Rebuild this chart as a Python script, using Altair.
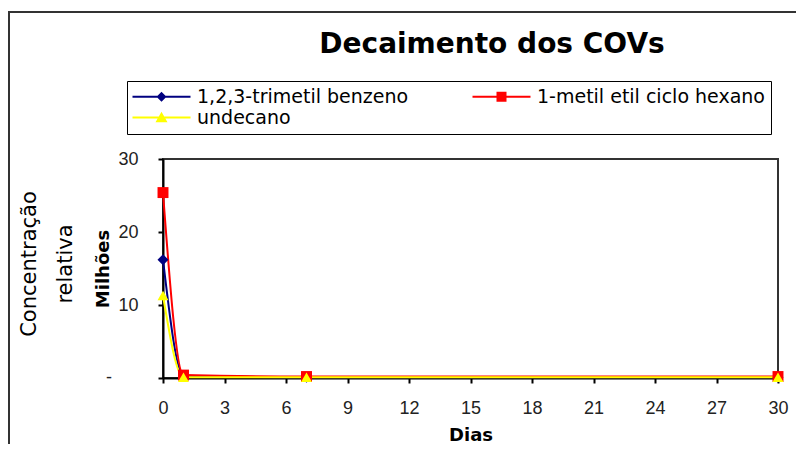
import altair as alt
import pandas as pd

# ---- data ----
dias = [0, 1, 7, 30]
series = ["1,2,3-trimetil benzeno", "1-metil etil ciclo hexano", "undecano"]
trimetil_benzeno = [16.2, 0.3, 0.1, 0.1]
metil_etil_ciclohexano = [25.4, 0.4, 0.2, 0.2]
undecano = [11.3, 0.1, 0.1, 0.1]
cores = ["#000080", "#FF0000", "#FFFF00"]
formas = ["diamond", "square", "triangle-up"]
x_ticks = list(range(0, 31, 3))
y_ticks = [0, 10, 20, 30]
titulo = "Decaimento dos COVs"
titulo_y = "Concentração\nrelativa"
rotulo_zero = "-"   # Excel accounting format shows zero as a dash

# legend symbols: a line segment with the marker in the middle
barra = "M-5.8,-0.2L5.8,-0.2L5.8,0.2L-5.8,0.2Z"
simbolos_legenda = [
    barra + "M0,-1L1,0L0,1L-1,0Z",
    barra + "M-1,-1L1,-1L1,1L-1,1Z",
    barra + "M0,-1.15L1.2,0.95L-1.2,0.95Z",
]

rows = []
for i, (nome, vals) in enumerate(zip(series, [trimetil_benzeno, metil_etil_ciclohexano, undecano])):
    for d, v in zip(dias, vals):
        rows.append({"serie": nome, "ordem": i, "dia": d, "valor": v,
                     "cor": cores[i], "forma": formas[i]})
df = pd.DataFrame(rows)

# Vega fills legend columns top-to-bottom: order so rows read
# [benzeno, hexano] / [undecano]
ordem_leg = [0, 2, 1]
dom_leg = [series[i] for i in ordem_leg]
cores_leg = [cores[i] for i in ordem_leg]
simb_leg = [simbolos_legenda[i] for i in ordem_leg]

W, H = 615, 219
LAB = "Liberation Sans"
TXT = "DejaVu Sans"

x_enc = alt.X("dia:Q", scale=alt.Scale(domain=[0, 30], nice=False),
              axis=alt.Axis(values=x_ticks, title="Dias", titleFont=TXT, titleFontSize=18,
                            titleFontWeight="bold", titleColor="black", titlePadding=9,
                            labelFont=LAB, labelFontSize=18, labelColor="#222", labelPadding=16,
                            tickSize=5, tickColor="black", tickWidth=2,
                            domainColor="black", domainWidth=2, grid=False,
                            labelFlush=False, labelOverlap=False))
y_enc = alt.Y("valor:Q", scale=alt.Scale(domain=[0, 30], nice=False),
              axis=alt.Axis(values=y_ticks,
                            labelExpr="datum.value == 0 ? '' : datum.label",
                            labelPadding=20,
                            title="Milhões", titleFont=TXT, titleFontSize=18, titleFontWeight="bold",
                            titleColor="black", titleX=-55, titleY=H / 2, titleAngle=270,
                            titleBaseline="alphabetic", titleAlign="center",
                            labelFont=LAB, labelFontSize=18, labelColor="#222",
                            tickSize=5, tickColor="black", tickWidth=2,
                            domainColor="black", domainWidth=2, grid=False, labelOverlap=False))

linhas = alt.Chart(df).mark_line(interpolate="monotone", strokeWidth=2).encode(
    x=x_enc, y=y_enc,
    stroke=alt.Stroke("cor:N", scale=None),
    detail="serie:N",
    order="dia:Q",
)

pontos = alt.Chart(df).mark_point(filled=True, size=120, opacity=1).encode(
    x=x_enc, y=y_enc,
    fill=alt.Fill("cor:N", scale=None),
    shape=alt.Shape("forma:N", scale=None),
    order="ordem:Q",
)

leg = dict(orient="none", legendX=-36, legendY=-78, columns=2, columnPadding=63,
           rowPadding=1, padding=6, strokeColor="black", labelFont=TXT, labelFontSize=19,
           labelColor="black", labelLimit=400, symbolSize=100, symbolOffset=19,
           labelOffset=26, symbolStrokeWidth=0, title=None)

legenda = alt.Chart(df).transform_filter("false").mark_point(filled=True, size=100, opacity=1).encode(
    x=x_enc, y=y_enc,
    color=alt.Color("serie:N", scale=alt.Scale(domain=dom_leg, range=cores_leg), legend=alt.Legend(**leg)),
    shape=alt.Shape("serie:N", scale=alt.Scale(domain=dom_leg, range=simb_leg), legend=alt.Legend(**leg)),
)

# zero tick label "-", set further left as in the reference
zero = alt.Chart(pd.DataFrame({"valor": [0], "t": [rotulo_zero]})).mark_text(
    align="center", baseline="middle", font=LAB, fontSize=18, color="#222",
).encode(text="t:N", x=alt.value(-54), y=alt.Y("valor:Q", scale=alt.Scale(domain=[0, 30], nice=False)))

rotulo = alt.Chart(pd.DataFrame({"t": [titulo_y]})).mark_text(
    lineBreak="\n", angle=270, align="center", baseline="alphabetic",
    font=TXT, fontSize=21, lineHeight=36, color="black",
).encode(text="t:N", x=alt.value(-127), y=alt.value(105))

cabecalho = alt.Chart(pd.DataFrame({"t": [titulo]})).mark_text(
    align="center", baseline="alphabetic", font=TXT, fontSize=28, fontWeight="bold", color="black",
).encode(text="t:N", x=alt.value(329), y=alt.value(-106))

moldura = alt.Chart(pd.DataFrame({"t": [0]})).mark_rect(
    fillOpacity=0, stroke="#333", strokeWidth=2,
).encode(x=alt.value(-154), x2=alt.value(700), y=alt.value(-147), y2=alt.value(400))

chart = alt.layer(moldura, cabecalho, rotulo, linhas, pontos, legenda, zero).resolve_scale(
    shape="independent", color="independent"
).properties(
    width=W, height=H,
    autosize=alt.AutoSizeParams(type="none"),
    padding={"left": 155, "top": 151, "right": 18, "bottom": 66},
).configure_view(stroke="#333", strokeWidth=2)

chart.save("out.html", embed_options={"renderer": "svg", "actions": False})
